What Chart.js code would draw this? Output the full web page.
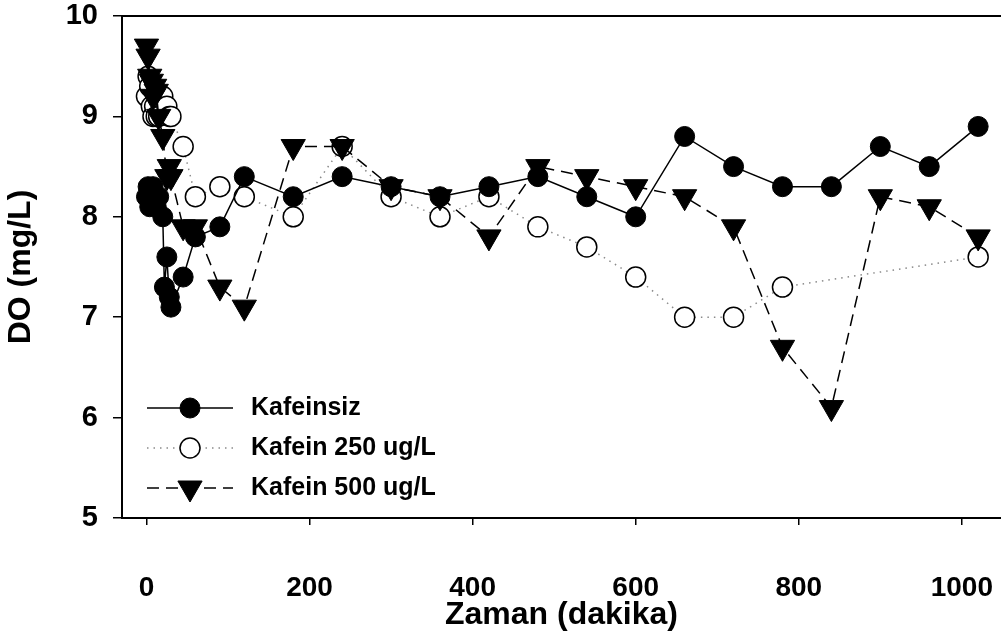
<!DOCTYPE html>
<html>
<head>
<meta charset="utf-8">
<script src="https://cdn.jsdelivr.net/npm/chart.js@4/dist/chart.umd.min.js"></script>
<style>
  html, body { margin: 0; padding: 0; background: #fff; }
  #doChart { display: block; }
</style>
</head>
<body>
<canvas id="doChart" width="1001" height="637"></canvas>
<script>
Chart.defaults.color = '#000'
Chart.defaults.font.family = '"Liberation Sans", Arial, sans-serif'
Chart.defaults.font.weight = 'bold'

// sampling times (min) and dissolved oxygen readings (mg/L)
const minutes = [0, 2, 4, 6, 8, 10, 12, 15, 20, 22, 25, 28, 30, 45, 60, 90, 120, 180,
    240, 300, 360, 420, 480, 540, 600, 660, 720, 780, 840, 900, 960, 1020]

const kafeinsiz = [8.2, 8.3, 8.1, 8.2, 8.3, 8.2, 8.1, 8.2, 8.0, 7.3, 7.6, 7.2, 7.1, 7.4, 7.8, 7.9, 8.4, 8.2,
    8.4, 8.3, 8.2, 8.3, 8.4, 8.2, 8.0, 8.8, 8.5, 8.3, 8.3, 8.7, 8.5, 8.9]

const kafein250 = [9.2, 9.4, 9.3, 9.1, 9.0, 9.1, 9.0, 9.0, 9.2, null, 9.1, 9.0, 9.0, 8.7, 8.2, 8.3, 8.2, 8.0,
    8.7, 8.2, 8.0, 8.2, 7.9, 7.7, 7.4, 7.0, 7.0, 7.3, null, null, null, 7.6]

const kafein500 = [9.7, 9.6, 9.4, 9.35, 9.2, 9.3, 9.25, 9.0, 8.8, null, 8.4, 8.5, 8.4, 7.9, 7.9, 7.3, 7.1, 8.7,
    8.7, 8.3, 8.2, 7.8, 8.5, 8.4, 8.3, 8.2, 7.9, 6.7, 6.1, 8.2, 8.1, 7.8]

const seriesNames = ['Kafeinsiz', 'Kafein 250 ug/L', 'Kafein 500 ug/L']

const xTicks = [0, 200, 400, 600, 800, 1000]
const yTicks = [5, 6, 7, 8, 9, 10]

const toPoints = (values) => minutes.map((m, i) => ({x: m, y: values[i]}))

// legend drawn inside the plot: line sample with the marker in the middle
const insideLegend = {
    id: 'insideLegend',
    afterDatasetsDraw(chart, args, opts) {
        const ctx = chart.ctx
        const area = chart.chartArea
        chart.data.datasets.forEach((ds, i) => {
            const y = area.top + opts.top + i * opts.rowGap
            const x0 = area.left + opts.left
            const x1 = x0 + opts.sampleWidth
            const xm = (x0 + x1) / 2
            ctx.save()
            ctx.strokeStyle = ds.borderColor
            ctx.lineWidth = ds.borderWidth
            ctx.setLineDash(ds.borderDash || [])
            ctx.beginPath()
            ctx.moveTo(x0, y)
            ctx.lineTo(x1, y)
            ctx.stroke()
            ctx.setLineDash([])
            ctx.fillStyle = ds.pointBackgroundColor
            ctx.strokeStyle = ds.pointBorderColor
            ctx.lineWidth = ds.pointBorderWidth
            Chart.helpers.drawPoint(ctx, {
                pointStyle: ds.pointStyle,
                rotation: ds.pointRotation || 0,
                radius: ds.pointRadius,
                borderWidth: ds.pointBorderWidth
            }, xm, y)
            ctx.fillStyle = '#000'
            ctx.font = opts.font
            ctx.textAlign = 'left'
            ctx.textBaseline = 'middle'
            ctx.fillText(ds.label, x1 + opts.textGap, y)
            ctx.restore()
        })
    }
}

// top frame line
const topLine = {
    id: 'topLine',
    afterDraw(chart) {
        const ctx = chart.ctx
        const area = chart.chartArea
        ctx.save()
        ctx.strokeStyle = '#000'
        ctx.lineWidth = 2
        ctx.beginPath()
        ctx.moveTo(area.left, area.top)
        ctx.lineTo(chart.width, area.top)
        ctx.stroke()
        ctx.restore()
    }
}

const noEdgePadding = (scale) => {
    scale.paddingLeft = 0
    scale.paddingRight = 0
    scale.paddingTop = 0
    scale.paddingBottom = 0
}

const data = {
    datasets: [{
        label: seriesNames[0],
        data: toPoints(kafeinsiz),
        borderColor: '#000',
        borderWidth: 1.5,
        pointStyle: 'circle',
        pointRadius: 10,
        pointBackgroundColor: '#000',
        pointBorderColor: '#000',
        pointBorderWidth: 1,
        order: 0
    }, {
        label: seriesNames[1],
        data: toPoints(kafein250),
        borderColor: '#8a8a8a',
        borderWidth: 1.5,
        borderDash: [1.5, 5],
        pointStyle: 'circle',
        pointRadius: 10,
        pointBackgroundColor: '#fff',
        pointBorderColor: '#000',
        pointBorderWidth: 1.5,
        order: 2
    }, {
        label: seriesNames[2],
        data: toPoints(kafein500),
        borderColor: '#000',
        borderWidth: 1.5,
        borderDash: [12, 7],
        pointStyle: 'triangle',
        pointRotation: 180,
        pointRadius: 14,
        pointBackgroundColor: '#000',
        pointBorderColor: '#000',
        pointBorderWidth: 1,
        order: 1
    }]
}

const options = {
    responsive: false,
    animation: false,
    spanGaps: true,
    layout: {autoPadding: false, padding: {top: 16, right: 0, left: 0, bottom: 0}},
    elements: {line: {tension: 0}},
    plugins: {
        legend: {display: false},
        tooltip: {enabled: false},
        insideLegend: {
            top: 392, rowGap: 40, left: 25, sampleWidth: 86, textGap: 18,
            font: 'bold 25px "Liberation Sans", Arial, sans-serif'
        }
    },
    scales: {
        x: {
            type: 'linear',
            min: -30,
            max: 1048,
            afterBuildTicks: (scale) => { scale.ticks = xTicks.map(v => ({value: v})) },
            afterFit: (scale) => { scale.height = 119; noEdgePadding(scale) },
            grid: {drawOnChartArea: false, drawTicks: true, tickLength: 7, color: '#000', lineWidth: 1.5},
            border: {display: true, color: '#000', width: 2},
            ticks: {font: {size: 28, weight: 'bold'}, padding: 46, maxRotation: 0, callback: (v) => String(v)},
            title: {display: true, text: 'Zaman (dakika)', font: {size: 32, weight: 'bold'}, padding: {bottom: 3}}
        },
        y: {
            min: 5,
            max: 10,
            afterBuildTicks: (scale) => { scale.ticks = yTicks.map(v => ({value: v})) },
            afterFit: (scale) => { scale.width = 122; noEdgePadding(scale) },
            grid: {drawOnChartArea: false, drawTicks: true, tickLength: 9, color: '#000', lineWidth: 1.5},
            border: {display: true, color: '#000', width: 2},
            ticks: {font: {size: 29, weight: 'bold'}, padding: 15, callback: (v) => String(v)},
            title: {display: true, text: 'DO (mg/L)', font: {size: 32, weight: 'bold'}, padding: {top: 2}}
        }
    }
}

new Chart('doChart', {type: 'line', data, options, plugins: [insideLegend, topLine]})
</script>
</body>
</html>
